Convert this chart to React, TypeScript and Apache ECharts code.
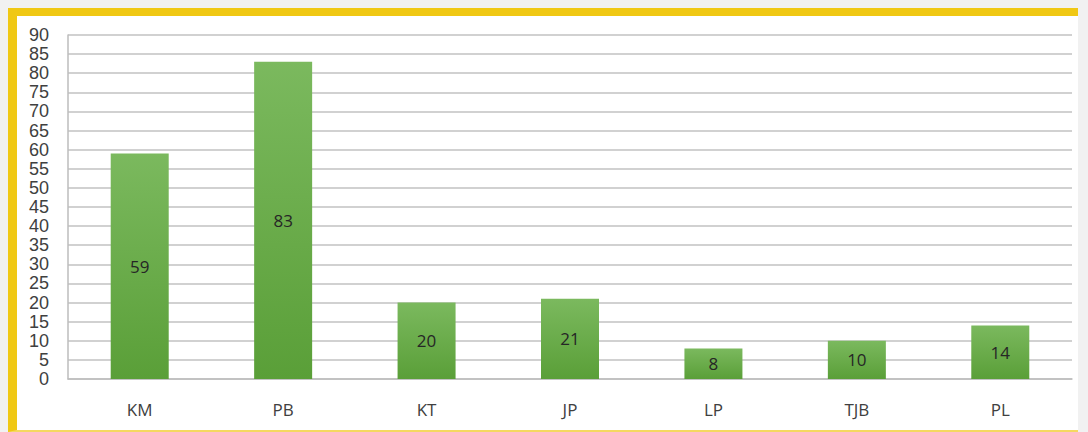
import React, { useEffect, useRef } from "react";
import * as echarts from "echarts";

const categories = ["KM", "PB", "KT", "JP", "LP", "TJB", "PL"];
const values = [59, 83, 20, 21, 8, 10, 14];
const yMin = 0;
const yMax = 90;
const yStep = 5;

export default function App() {
  const ref = useRef<HTMLDivElement>(null);
  useEffect(() => {
    if (!ref.current) return;
    const chart = echarts.init(ref.current, null, { renderer: "svg" });
    chart.setOption({
      animation: false,
      backgroundColor: "transparent",
      grid: { left: 68, right: 16, top: 35, bottom: 53, containLabel: false },
      xAxis: {
        type: "category",
        data: categories,
        axisLine: { show: true, lineStyle: { color: "#bdbdbd", width: 1.5 } },
        axisTick: { show: false },
        axisLabel: {
          color: "#404040",
          fontSize: 17,
          fontFamily: "Open Sans",
          margin: 22,
        },
      },
      yAxis: {
        type: "value",
        min: yMin,
        max: yMax,
        interval: yStep,
        axisLine: { show: true, lineStyle: { color: "#bdbdbd", width: 1.5 } },
        axisTick: { show: false },
        splitLine: { show: true, lineStyle: { color: "#c2c2c2", width: 1.5 } },
        axisLabel: {
          color: "#404040",
          fontSize: 18,
          fontFamily: "Liberation Sans",
          margin: 19,
        },
      },
      series: [
        {
          type: "bar",
          data: values,
          barWidth: 58,
          itemStyle: {
            color: new echarts.graphic.LinearGradient(0, 0, 0, 1, [
              { offset: 0, color: "#7bb95e" },
              { offset: 1, color: "#5a9f38" },
            ]),
          },
          label: {
            show: true,
            position: "inside",
            color: "#262626",
            fontSize: 17,
            fontFamily: "Open Sans",
          },
        },
      ],
    });
    return () => chart.dispose();
  }, []);
  return (
    <div
      style={{
        position: "fixed",
        left: 0,
        top: 0,
        width: 1088,
        height: 432,
        background: "#f1f1f1",
        overflow: "hidden",
      }}
    >
      <div
        style={{
          position: "absolute",
          left: 8,
          top: 8,
          width: 1070,
          height: 424,
          boxSizing: "border-box",
          background: "#ffffff",
          borderLeft: "9px solid #f0c814",
          borderTop: "8px solid #f0c814",
          borderBottom: "2px solid #f5d860",
        }}
      />
      <div
        ref={ref}
        style={{ position: "absolute", left: 0, top: 0, width: 1088, height: 432 }}
      />
    </div>
  );
}
